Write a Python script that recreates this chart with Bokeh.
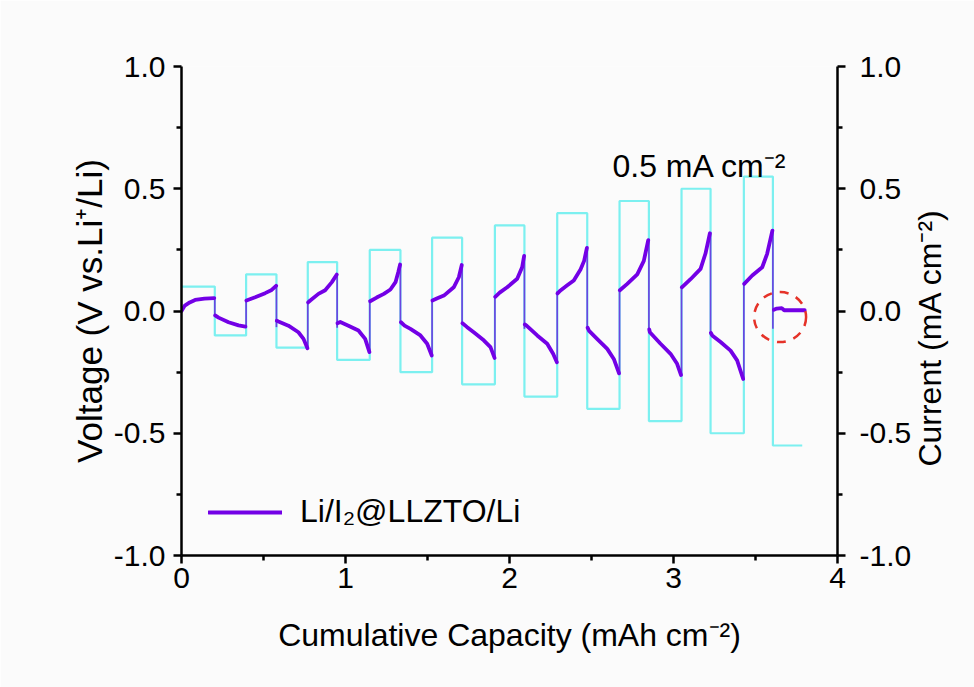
from math import pi
from bokeh.plotting import figure
from bokeh.models import (Range1d, LinearAxis, FixedTicker, Label, Legend,
                          LegendItem, PrintfTickFormatter)
from bokeh.embed import file_html
from bokeh.resources import INLINE

# ---------------- data ----------------
# half-cycle boundaries (cumulative capacity, mAh cm^-2)
step_edges = [0.0, 0.203, 0.394, 0.579, 0.770, 0.949, 1.148, 1.335, 1.528, 1.711,
              1.911, 2.091, 2.291, 2.474, 2.671, 2.850, 3.049, 3.226, 3.429, 3.606, 3.785]
# applied current density of each half-cycle (mA cm^-2)
current_levels = [0.10, -0.10, 0.15, -0.15, 0.20, -0.20, 0.25, -0.25, 0.30, -0.30,
                  0.35, -0.35, 0.40, -0.40, 0.45, -0.45, 0.50, -0.50, 0.55, -0.55]

# voltage profile, one list per half-cycle
seg_cap = [
    [0.0, 0.02, 0.05, 0.083, 0.14, 0.2],
    [0.205, 0.226, 0.287, 0.348, 0.39],
    [0.396, 0.449, 0.51, 0.55, 0.577],
    [0.581, 0.591, 0.652, 0.713, 0.744, 0.768],
    [0.772, 0.785, 0.835, 0.876, 0.917, 0.947],
    [0.951, 0.968, 1.018, 1.079, 1.12, 1.146],
    [1.15, 1.19, 1.234, 1.274, 1.305, 1.322, 1.333],
    [1.338, 1.36, 1.396, 1.457, 1.498, 1.526],
    [1.53, 1.56, 1.6, 1.66, 1.691, 1.709],
    [1.713, 1.74, 1.782, 1.843, 1.884, 1.909],
    [1.913, 1.94, 1.986, 2.047, 2.077, 2.089],
    [2.093, 2.104, 2.169, 2.23, 2.266, 2.289],
    [2.293, 2.311, 2.352, 2.392, 2.433, 2.455, 2.472],
    [2.476, 2.484, 2.534, 2.596, 2.636, 2.668],
    [2.673, 2.718, 2.779, 2.819, 2.846],
    [2.852, 2.856, 2.921, 2.982, 3.022, 3.046],
    [3.051, 3.104, 3.165, 3.195, 3.222],
    [3.228, 3.236, 3.287, 3.348, 3.388, 3.425],
    [3.431, 3.48, 3.541, 3.571, 3.603],
    [3.612, 3.63, 3.66, 3.675, 3.80],
]
seg_volt = [
    [0.0, 0.022, 0.035, 0.045, 0.051, 0.053],
    [-0.018, -0.027, -0.046, -0.059, -0.064],
    [0.043, 0.056, 0.073, 0.086, 0.103],
    [-0.04, -0.043, -0.06, -0.087, -0.114, -0.152],
    [0.035, 0.043, 0.07, 0.085, 0.118, 0.149],
    [-0.05, -0.045, -0.06, -0.08, -0.114, -0.168],
    [0.04, 0.055, 0.07, 0.088, 0.118, 0.16, 0.19],
    [-0.046, -0.06, -0.073, -0.1, -0.134, -0.182],
    [0.043, 0.052, 0.063, 0.097, 0.138, 0.188],
    [-0.05, -0.065, -0.087, -0.12, -0.148, -0.192],
    [0.058, 0.075, 0.097, 0.132, 0.179, 0.225],
    [-0.055, -0.06, -0.1, -0.134, -0.175, -0.21],
    [0.072, 0.084, 0.105, 0.125, 0.17, 0.205, 0.258],
    [-0.068, -0.08, -0.114, -0.155, -0.196, -0.255],
    [0.085, 0.111, 0.15, 0.205, 0.29],
    [-0.075, -0.087, -0.134, -0.175, -0.216, -0.262],
    [0.097, 0.13, 0.172, 0.235, 0.318],
    [-0.09, -0.1, -0.127, -0.162, -0.202, -0.278],
    [0.111, 0.145, 0.179, 0.234, 0.329],
    [0.005, 0.01, 0.012, 0.003, 0.003],
]

# voltage jumps at current reversals
jump_cap = [0.203, 0.394, 0.579, 0.770, 0.949, 1.148, 1.335, 1.528, 1.711, 1.911,
            2.091, 2.291, 2.474, 2.671, 2.850, 3.049, 3.226, 3.429, 3.606]
jump_low = [-0.02, -0.066, -0.066, -0.155, -0.069, -0.17, -0.05, -0.182, -0.052, -0.196,
            -0.073, -0.212, -0.066, -0.257, -0.08, -0.262, -0.093, -0.277, -0.073]
jump_high = [0.055, 0.046, 0.104, 0.035, 0.149, 0.043, 0.19, 0.043, 0.188, 0.057,
             0.226, 0.08, 0.258, 0.084, 0.29, 0.104, 0.318, 0.111, 0.329]

highlight_cap = 3.65
highlight_volt = -0.025

x_ticks = [0, 1, 2, 3, 4]
x_minor_ticks = [0.5, 1.5, 2.5, 3.5]
y_ticks = [-1.0, -0.5, 0.0, 0.5, 1.0]
y_minor_ticks = [-0.75, -0.25, 0.25, 0.75]

x_label = "Cumulative Capacity (mAh cm\u207b\u00b2)"
y_left_label = "Voltage (V vs.Li\u207a/Li)"
y_right_label = "Current (mA cm\u207b\u00b2)"
legend_label = "Li/I\u2082@LLZTO/Li"
note_text = "0.5 mA cm\u207b\u00b2"

# ---------------- style ----------------
FONT = "Liberation Sans"
FS = "30px"
PURPLE = "#7300E6"
JUMP = "#6A45E0"
CYAN = "#7CF0F0"
BG = "#FBFBFB"

p = figure(width=974, height=687, x_range=Range1d(0, 4), y_range=Range1d(-1, 1),
           output_backend="svg", toolbar_location=None,
           min_border_left=181, min_border_right=137, min_border_top=66,
           min_border_bottom=132)
p.background_fill_color = BG
p.border_fill_color = BG
p.outline_line_color = None
p.xgrid.visible = False
p.ygrid.visible = False


def style_axis(ax, ticks, minor, fmt, standoff, label, label_size, label_standoff):
    ax.ticker = FixedTicker(ticks=ticks, minor_ticks=minor)
    ax.formatter = PrintfTickFormatter(format=fmt)
    ax.axis_line_width = 2.5
    ax.axis_line_color = "black"
    ax.major_tick_line_width = 2.5
    ax.minor_tick_line_width = 2.5
    ax.major_tick_line_color = "black"
    ax.minor_tick_line_color = "black"
    ax.major_tick_in = 0
    ax.major_tick_out = 8
    ax.minor_tick_in = 0
    ax.minor_tick_out = 5
    ax.major_label_text_font = FONT
    ax.major_label_text_font_size = FS
    ax.major_label_text_color = "black"
    ax.major_label_standoff = standoff
    ax.axis_label = label
    ax.axis_label_text_font = FONT
    ax.axis_label_text_font_size = label_size
    ax.axis_label_text_font_style = "normal"
    ax.axis_label_text_color = "black"
    ax.axis_label_standoff = label_standoff


style_axis(p.xaxis[0], x_ticks, x_minor_ticks, "%d", 4, x_label, "32px", 26)
style_axis(p.yaxis[0], y_ticks, y_minor_ticks, "%.1f", 8, y_left_label, "35px", 2)
right_axis = LinearAxis()
# the right label reads bottom-to-top and starts just above the frame's lower part
style_axis(right_axis, y_ticks, y_minor_ticks, "%.1f", 14,
           "\u00a0" * 10 + y_right_label, "32px", 16)
try:
    right_axis.axis_label_orientation = pi / 2
    right_axis.axis_label_align = "start"
except Exception:
    pass
p.add_layout(right_axis, "right")

# current steps
step_x, step_y = [], []
for i, lvl in enumerate(current_levels):
    step_x += [step_edges[i], step_edges[i + 1]]
    step_y += [lvl, lvl]
p.line(step_x, step_y, line_color=CYAN, line_width=2.2)

# voltage
p.segment(x0=jump_cap, y0=jump_low, x1=jump_cap, y1=jump_high,
          line_color=JUMP, line_width=1.7)
r_volt = p.multi_line(xs=seg_cap, ys=seg_volt, line_color=PURPLE, line_width=3.8,
                      line_join="round", line_cap="round")

# highlight circle
p.ellipse(x=[highlight_cap], y=[highlight_volt], width=52, height=50,
          width_units="screen", height_units="screen", fill_color=None,
          line_color="#E53228", line_width=2.5, line_dash="9 8")

legend = Legend(items=[LegendItem(label=legend_label, renderers=[r_volt])],
                location=(27, 25), border_line_color=None, background_fill_alpha=0,
                label_text_font=FONT, label_text_font_size="32px",
                label_text_color="black", glyph_width=74,
                glyph_height=30, label_standoff=18, padding=0, margin=0, spacing=0)
p.add_layout(legend)

p.add_layout(Label(x=2.628, y=0.595, text=note_text, text_font=FONT,
                   text_font_size="32px", text_color="black",
                   text_align="left", text_baseline="alphabetic"))

open("out.html", "w").write(file_html(p, INLINE))
